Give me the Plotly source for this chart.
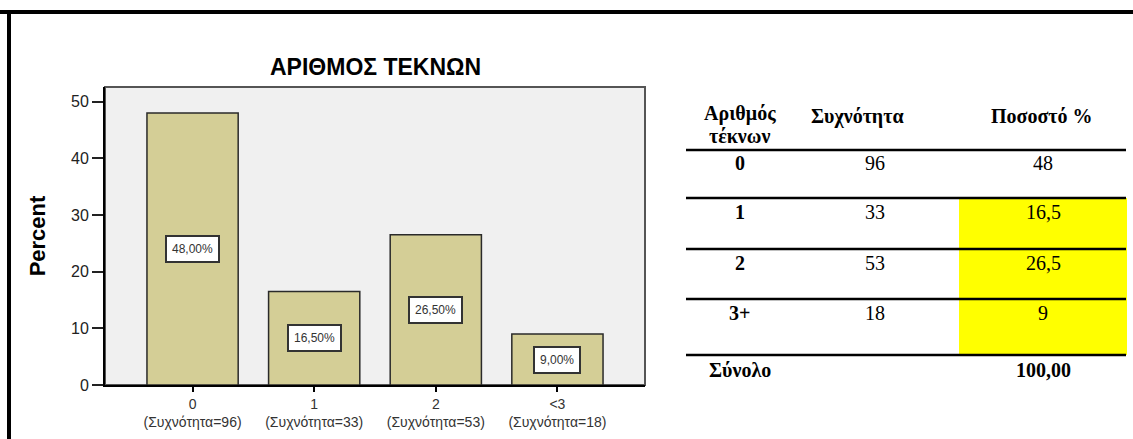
import plotly.graph_objects as go

# chart data
categories = ['0', '1', '2', '<3']
frequencies = [96, 33, 53, 18]
percents = [48.0, 16.5, 26.5, 9.0]
y_ticks = [0, 10, 20, 30, 40, 50]

# table data
table_header = ['Αριθμός', 'τέκνων', 'Συχνότητα', 'Ποσοστό %']
table_rows = ['0', '1', '2', '3+']
table_freq = ['96', '33', '53', '18']
table_pct = ['48', '16,5', '26,5', '9']
table_total_label = 'Σύνολο'
table_total_pct = '100,00'
highlighted = [False, True, True, True]

W, H = 1133, 439
L, R, T, B = 105, 645, 87, 385


def px(x):
    return (x - L) / (R - L)


def py(y):
    return (B - y) / (B - T)


def text_at(x, y, text, size, family='Liberation Serif'):
    fig.add_annotation(x=px(x), y=py(y), xref='paper', yref='paper', text=text,
                       xanchor='center', yanchor='middle', showarrow=False,
                       font=dict(family=family, size=size, color='black'))


fig = go.Figure()

fig.add_trace(go.Bar(
    x=list(range(len(categories))),
    y=percents,
    width=0.75,
    marker=dict(color='#D4CE96', line=dict(color='#2a2a2a', width=1.5)),
    hoverinfo='skip',
))

tick_text = ['{}<br>(Συχνότητα={})'.format(c, f) for c, f in zip(categories, frequencies)]

# labels in the middle of the bars
for i, p in enumerate(percents):
    fig.add_annotation(
        x=i, y=p / 2, text='{:.2f}%'.format(p).replace('.', ','),
        xanchor='center', yanchor='middle',
        showarrow=False, font=dict(family='Liberation Sans', size=12, color='#333'),
        bgcolor='white', bordercolor='#333', borderwidth=2, borderpad=5,
    )

text_at(375, 67, '<b>ΑΡΙΘΜΟΣ ΤΕΚΝΩΝ</b>', 23, 'Liberation Sans')

# frame of the plot area
fig.add_shape(type='rect', xref='paper', yref='paper', x0=0, y0=0, x1=1, y1=1,
              line=dict(color='#555', width=2), layer='below')

# outer border: top and left only
fig.add_shape(type='line', xref='paper', yref='paper', x0=px(0), x1=px(W), y0=py(12), y1=py(12),
              line=dict(color='black', width=4))
fig.add_shape(type='line', xref='paper', yref='paper', x0=px(9), x1=px(9), y0=py(12), y1=py(H),
              line=dict(color='black', width=4))

# table
fs = 20
col_x = [740, 875, 1043]
row_y = [163, 212, 263, 313]
line_y = [150, 198, 249, 299, 355]

for i, h in enumerate(highlighted):
    if h:
        top = line_y[i]
        bottom = line_y[i + 1]
        fig.add_shape(type='rect', xref='paper', yref='paper', x0=px(959), x1=px(1127),
                      y0=py(bottom), y1=py(top), fillcolor='#FFFF00', line=dict(width=0), layer='below')

for ly in line_y:
    fig.add_shape(type='line', xref='paper', yref='paper', x0=px(686), x1=px(1126), y0=py(ly), y1=py(ly),
                  line=dict(color='black', width=2.5))

header_pos = [(740, 113), (740, 136), (857, 116), (1042, 116)]
for text, (hx, hy) in zip(table_header, header_pos):
    text_at(hx, hy, '<b>' + text + '</b>', fs)

for r, f, p, ry in zip(table_rows, table_freq, table_pct, row_y):
    text_at(col_x[0], ry, '<b>' + r + '</b>', fs)
    text_at(col_x[1], ry, f, fs)
    text_at(col_x[2], ry, p, fs)

text_at(col_x[0], 370, '<b>' + table_total_label + '</b>', fs)
text_at(col_x[2], 370, '<b>' + table_total_pct + '</b>', fs)

fig.update_layout(
    width=W, height=H,
    margin=dict(l=L, r=W - R, t=T, b=H - B),
    paper_bgcolor='white',
    plot_bgcolor='#F0F0F0',
    showlegend=False,
    xaxis=dict(
        range=[-0.72, 3.72], tickvals=list(range(len(categories))), ticktext=tick_text,
        ticks='outside', ticklen=5, tickwidth=2, tickcolor='black', automargin=False,
        showline=True, linecolor='black', linewidth=2, showgrid=False, zeroline=False,
        tickfont=dict(family='Liberation Sans', size=14, color='#333'),
    ),
    yaxis=dict(
        range=[0, 52.6], tickvals=y_ticks, automargin=False,
        ticks='outside', ticklen=11, tickwidth=2, tickcolor='#222',
        showline=True, linecolor='black', linewidth=2, showgrid=False, zeroline=False,
        tickfont=dict(family='Liberation Sans', size=16, color='#222'),
        title=dict(text='<b>Percent</b>', font=dict(family='Liberation Sans', size=22, color='black'), standoff=19),
    ),
)

fig.write_html('out.html', config={'displayModeBar': False},
               post_script="document.body.style.margin='0px';")
